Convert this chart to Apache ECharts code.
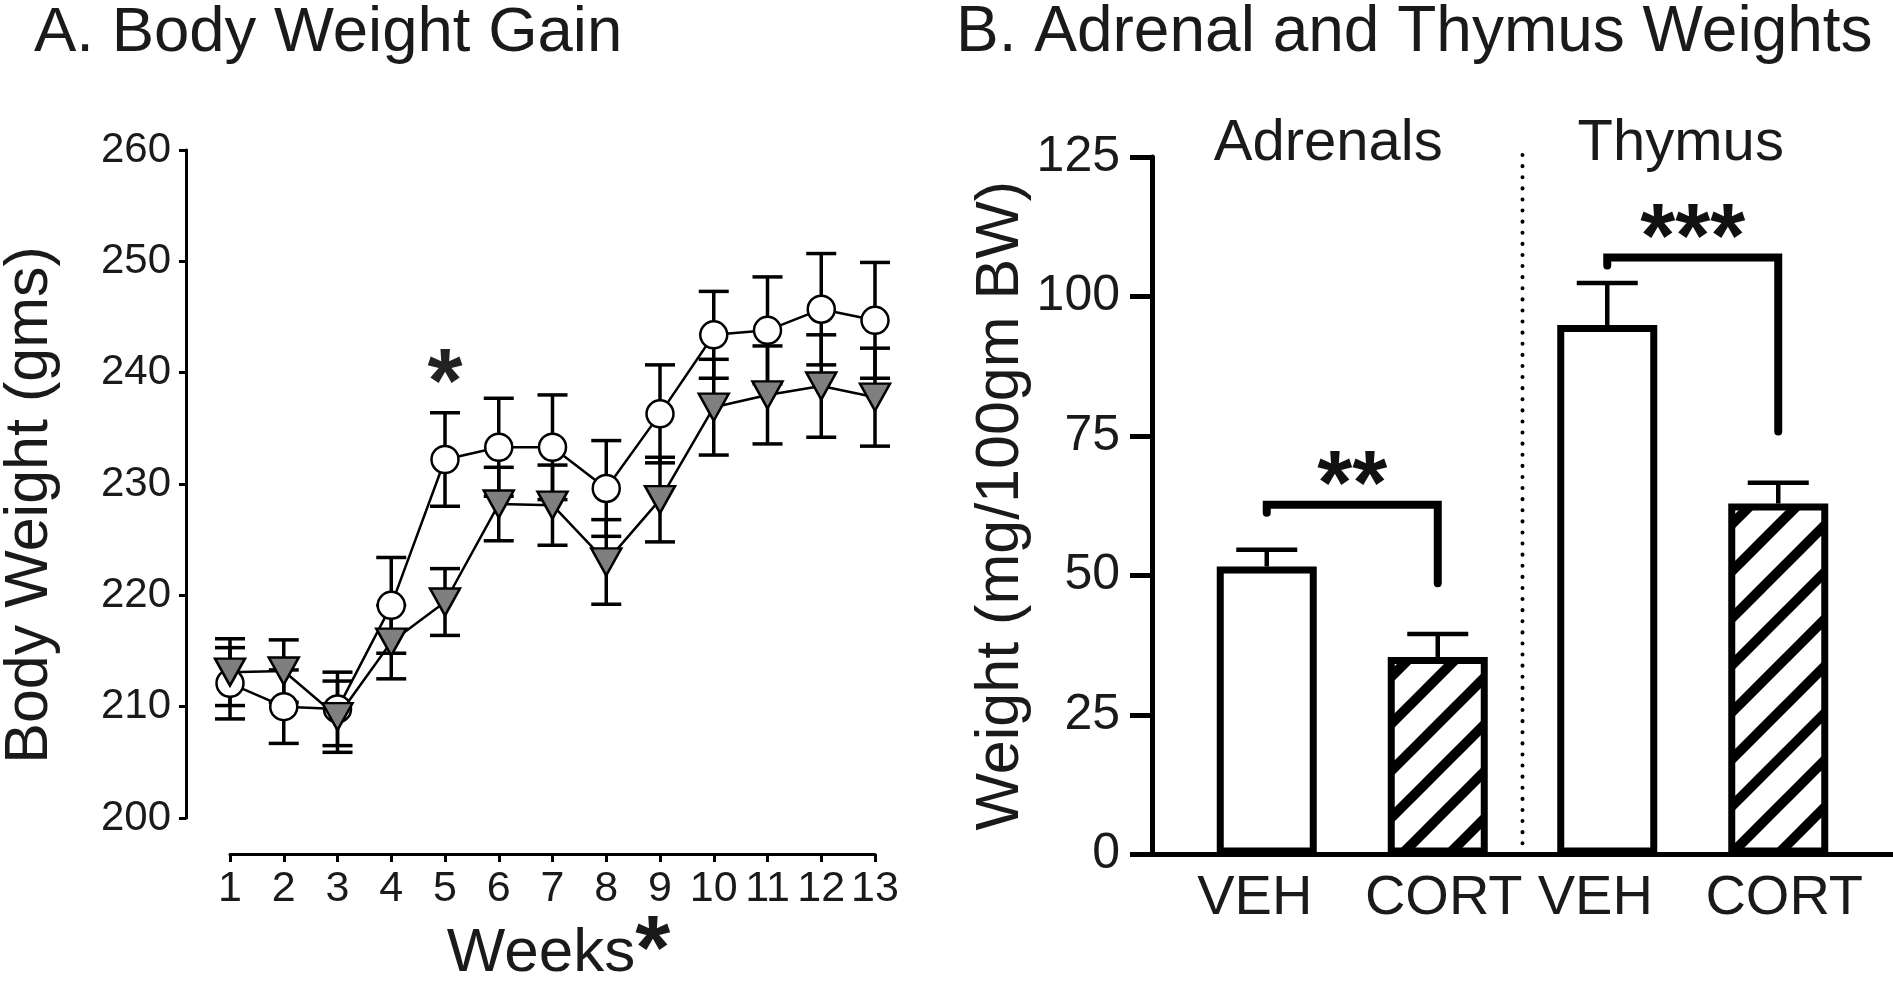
<!DOCTYPE html>
<html>
<head>
<meta charset="utf-8">
<script src="https://cdn.jsdelivr.net/npm/echarts@6/dist/echarts.min.js"></script>
<style>
html,body{margin:0;padding:0;background:#fff;}
#c{width:1893px;height:984px;}
</style>
</head>
<body>
<div id="c"></div>
<script>
// ---------- Panel A data ----------
const weeks = [1,2,3,4,5,6,7,8,9,10,11,12,13];
const vehMean  = [212.1, 210.0, 209.8, 219.1, 232.2, 233.3, 233.3, 229.6, 236.3, 243.4, 243.8, 245.7, 244.7];
const vehSem   = [3.2, 3.3, 3.3, 4.3, 4.2, 4.4, 4.7, 4.3, 4.4, 3.9, 4.8, 5.0, 5.2];
const cortMean = [213.1, 213.2, 209.1, 215.8, 219.4, 228.2, 228.1, 223.0, 228.6, 236.9, 238.0, 238.8, 237.8];
const cortSem  = [3.0, 2.8, 3.2, 3.3, 3.0, 3.3, 3.6, 3.8, 3.8, 4.3, 4.4, 4.6, 4.4];
const weekSig = [5];
const weekSigLevel = [240.2];

// ---------- Panel B data ----------
const organs = ['Adrenals', 'Thymus'];
const groups = ['VEH', 'CORT'];
const organVeh = [51.6, 94.9];
const organVehSem = [3.0, 7.5];
const organCort = [35.4, 62.9];
const organCortSem = [4.1, 3.7];
const bracketLevel = [62.7, 107.0];
const bracketDrop = [48.6, 75.8];
const sigText = ['**', '***'];

// ---------- styling ----------
const FONT = '"Liberation Sans", Arial, Helvetica, sans-serif';
const TXT = '#1a1a1a';
const BAR_W = 100;
const BAR_GAP = 0.71;
const BAR_OFF = (BAR_W + BAR_W * BAR_GAP) / 2;
const YB_OFFSET = 30;

function hatch() {
  const P = 47;
  const c = document.createElement('canvas');
  c.width = P; c.height = P;
  const g = c.getContext('2d');
  g.fillStyle = '#fff';
  g.fillRect(0, 0, P, P);
  g.strokeStyle = '#000';
  g.lineWidth = 10;
  for (const k of [0, P, 2 * P]) {
    g.beginPath();
    g.moveTo(k + 6, -6);
    g.lineTo(k - P - 6, P + 6);
    g.stroke();
  }
  return c;
}

function errA(capW, lw) {
  return function (params, api) {
    const x = api.value(0), m = api.value(1), e = api.value(2);
    const t = api.coord([x, m + e]);
    const b = api.coord([x, m - e]);
    const h = capW / 2;
    const st = { stroke: '#000', lineWidth: lw };
    return {
      type: 'group', children: [
        { type: 'line', shape: { x1: t[0], y1: t[1], x2: b[0], y2: b[1] }, style: st },
        { type: 'line', shape: { x1: t[0] - h, y1: t[1], x2: t[0] + h, y2: t[1] }, style: st },
        { type: 'line', shape: { x1: b[0] - h, y1: b[1], x2: b[0] + h, y2: b[1] }, style: st }
      ]
    };
  };
}

function errB(side) {
  return function (params, api) {
    const i = api.value(0), m = api.value(1), e = api.value(2);
    const base = api.coord([i, m]);
    const top = api.coord([i, m + e]);
    const x = base[0] + side * BAR_OFF;
    const st = { stroke: '#000', lineWidth: 4.5 };
    return {
      type: 'group', children: [
        { type: 'line', shape: { x1: x, y1: base[1], x2: x, y2: top[1] }, style: st },
        { type: 'line', shape: { x1: x - 30.5, y1: top[1], x2: x + 30.5, y2: top[1] }, style: st }
      ]
    };
  };
}

const chart = echarts.init(document.getElementById('c'), null, { renderer: 'canvas' });

const option = {
  animation: false,
  backgroundColor: '#fff',
  textStyle: { fontFamily: FONT },
  title: [
    { text: 'A. Body Weight Gain', left: 34, top: 2, padding: 0,
      textStyle: { fontFamily: FONT, fontSize: 63.5, fontWeight: 'normal', color: TXT, lineHeight: 63 } },
    { text: 'B. Adrenal and Thymus Weights', left: 956, top: 2, padding: 0,
      textStyle: { fontFamily: FONT, fontSize: 64, fontWeight: 'normal', color: TXT, lineHeight: 63 } }
  ],
  grid: [
    { left: 230, top: 150, width: 645, height: 668, outerBoundsMode: 'none', containLabel: false },
    { left: 1182, top: 157, width: 681, height: 697.5, outerBoundsMode: 'none', containLabel: false }
  ],
  xAxis: [
    {
      type: 'value', gridIndex: 0, min: 1, max: 13, interval: 1, offset: 36,
      axisLine: { show: true, onZero: false, lineStyle: { color: '#000', width: 3 } },
      axisTick: { show: true, length: 8, lineStyle: { color: '#000', width: 3 } },
      axisLabel: { fontSize: 43, color: TXT, margin: 14, fontFamily: FONT, lineHeight: 43 },
      splitLine: { show: false }
    },
    {
      type: 'category', gridIndex: 1, data: organs, position: 'bottom',
      axisLine: { show: false }, axisTick: { show: false }, axisLabel: { show: false },
      splitLine: { show: false }
    },
    {
      type: 'category', gridIndex: 1, position: 'top',
      data: organs.map((o, i) => ({ value: o, textStyle: { padding: [0, i === 0 ? 48 : 24, 0, 0] } })),
      axisLine: { show: false }, axisTick: { show: false },
      axisLabel: { fontSize: 58, color: TXT, margin: -16, fontFamily: FONT, lineHeight: 58 },
      splitLine: { show: false }
    }
  ],
  yAxis: [
    {
      type: 'value', gridIndex: 0, min: 200, max: 260, interval: 10, offset: 44,
      axisLine: { show: true, lineStyle: { color: '#000', width: 3 } },
      axisTick: { show: true, length: 7, lineStyle: { color: '#000', width: 3 } },
      axisLabel: { fontSize: 42, color: TXT, margin: 15, fontFamily: FONT },
      splitLine: { show: false },
      name: 'Body Weight (gms)', nameLocation: 'middle', nameRotate: 90, nameGap: 125,
      nameTextStyle: { fontSize: 61, color: TXT, fontFamily: FONT, padding: [0, 42, 0, 0] }
    },
    {
      type: 'value', gridIndex: 1, min: 0, max: 125, interval: 25, offset: YB_OFFSET,
      axisLine: { show: true, lineStyle: { color: '#000', width: 5 } },
      axisTick: { show: true, length: 22, lineStyle: { color: '#000', width: 5 } },
      axisLabel: { fontSize: 50, color: TXT, margin: 32, fontFamily: FONT },
      splitLine: { show: false },
      name: 'Weight (mg/100gm BW)', nameLocation: 'middle', nameRotate: 90, nameGap: 120,
      nameTextStyle: { fontSize: 61, color: TXT, fontFamily: FONT }
    }
  ],
  series: [
    {
      type: 'custom', name: 'VEH SEM', xAxisIndex: 0, yAxisIndex: 0, z: 2,
      encode: { x: 0, y: 1 },
      data: weeks.map((w, i) => [w, vehMean[i], vehSem[i]]),
      renderItem: errA(30, 3.5)
    },
    {
      type: 'custom', name: 'CORT SEM', xAxisIndex: 0, yAxisIndex: 0, z: 2,
      encode: { x: 0, y: 1 },
      data: weeks.map((w, i) => [w, cortMean[i], cortSem[i]]),
      renderItem: errA(30, 3.5)
    },
    {
      type: 'line', name: 'VEH', xAxisIndex: 0, yAxisIndex: 0, z: 3,
      data: weeks.map((w, i) => [w, vehMean[i]]),
      symbol: 'circle', symbolSize: 27,
      itemStyle: { color: '#fff', borderColor: '#000', borderWidth: 2.5 },
      lineStyle: { color: '#000', width: 2.5 }
    },
    {
      type: 'line', name: 'CORT', xAxisIndex: 0, yAxisIndex: 0, z: 4,
      data: weeks.map((w, i) => [w, cortMean[i]]),
      symbol: 'triangle', symbolRotate: 180, symbolSize: [30, 27],
      itemStyle: { color: '#7f7f7f', borderColor: '#000', borderWidth: 2.5 },
      lineStyle: { color: '#000', width: 2.5 }
    },
    {
      type: 'bar', name: groups[0], xAxisIndex: 1, yAxisIndex: 1,
      data: organVeh, barWidth: BAR_W, barGap: (BAR_GAP * 100) + '%',
      itemStyle: { color: '#fff', borderColor: '#000', borderWidth: 7 },
      label: { show: true, position: 'bottom', distance: 16, formatter: groups[0],
        fontSize: 56, color: TXT, fontFamily: FONT, offset: [-12, 0] }
    },
    {
      type: 'bar', name: groups[1], xAxisIndex: 1, yAxisIndex: 1,
      data: organCort, barWidth: BAR_W, barGap: (BAR_GAP * 100) + '%',
      itemStyle: { color: { image: hatch(), repeat: 'repeat' }, borderColor: '#000', borderWidth: 7 },
      label: { show: true, position: 'bottom', distance: 16, formatter: groups[1],
        fontSize: 56, color: TXT, fontFamily: FONT, offset: [6, 0] }
    },
    {
      type: 'custom', name: 'VEH organ SEM', xAxisIndex: 1, yAxisIndex: 1, z: 5,
      encode: { x: 0, y: 1 },
      data: organs.map((o, i) => [i, organVeh[i], organVehSem[i]]),
      renderItem: errB(-1)
    },
    {
      type: 'custom', name: 'CORT organ SEM', xAxisIndex: 1, yAxisIndex: 1, z: 5,
      encode: { x: 0, y: 1 },
      data: organs.map((o, i) => [i, organCort[i], organCortSem[i]]),
      renderItem: errB(1)
    }
  ]
};

chart.setOption(option);

// ---------- annotations placed through the axes ----------
const pxB = (name) => chart.convertToPixel({ xAxisIndex: 1 }, name);
const pyB = (v) => chart.convertToPixel({ yAxisIndex: 1 }, v);
const pxA = (v) => chart.convertToPixel({ xAxisIndex: 0 }, v);
const pyA = (v) => chart.convertToPixel({ yAxisIndex: 0 }, v);

const c0 = pxB(organs[0]), c1 = pxB(organs[1]);
const cw = c1 - c0;
const y0 = pyB(0);
const yAxisX = c0 - cw / 2 - YB_OFFSET;
const graphics = [];

// x-axis title of panel A ("Weeks" with significance star)
graphics.push({ type: 'text', z: 10,
  style: {
    text: '{w|Weeks}{s|*}',
    x: (pxA(weeks[0]) + pxA(weeks[weeks.length - 1])) / 2 + 6,
    y: pyA(200) + 136,
    align: 'center', verticalAlign: 'middle',
    rich: {
      w: { fontSize: 62, fill: TXT, fontFamily: FONT, lineHeight: 62 },
      s: { fontSize: 90, fontWeight: 'bold', fill: TXT, fontFamily: FONT, lineHeight: 62 }
    }
  } });

// baseline of panel B spanning to the right edge
graphics.push({ type: 'line', z: 10,
  shape: { x1: yAxisX - 2.5, y1: y0, x2: 1893, y2: y0 },
  style: { stroke: '#000', lineWidth: 5 } });

// dotted separator between organs
graphics.push({ type: 'line', z: 10,
  shape: { x1: (c0 + c1) / 2, y1: pyB(125) - 2, x2: (c0 + c1) / 2, y2: y0 - 3 },
  style: { stroke: '#000', lineWidth: 4, lineDash: [0.1, 11], lineCap: 'round' } });

// significance brackets
organs.forEach((o, i) => {
  const cx = pxB(o);
  const xl = cx - BAR_OFF, xr = cx + BAR_OFF;
  const yl = pyB(bracketLevel[i]);
  const yd = pyB(bracketDrop[i]);
  graphics.push({ type: 'polyline', z: 10,
    shape: { points: [[xl, yl + 8], [xl, yl], [xr, yl], [xr, yd]] },
    style: { stroke: '#000', lineWidth: 8, lineCap: 'round', lineJoin: 'miter', fill: null } });
  graphics.push({ type: 'text', z: 10,
    style: { text: sigText[i], x: cx, y: yl - 39 + 24, align: 'center', verticalAlign: 'middle',
      fontSize: 90, fontWeight: 'bold', fontFamily: FONT, fill: '#111' } });
});

// week significance star
weekSig.forEach((w, i) => {
  graphics.push({ type: 'text', z: 10,
    style: { text: '*', x: pxA(w), y: pyA(weekSigLevel[i]) + 17, align: 'center', verticalAlign: 'middle',
      fontSize: 90, fontWeight: 'bold', fontFamily: FONT, fill: '#222' } });
});

chart.setOption({ graphic: graphics });
</script>
</body>
</html>
